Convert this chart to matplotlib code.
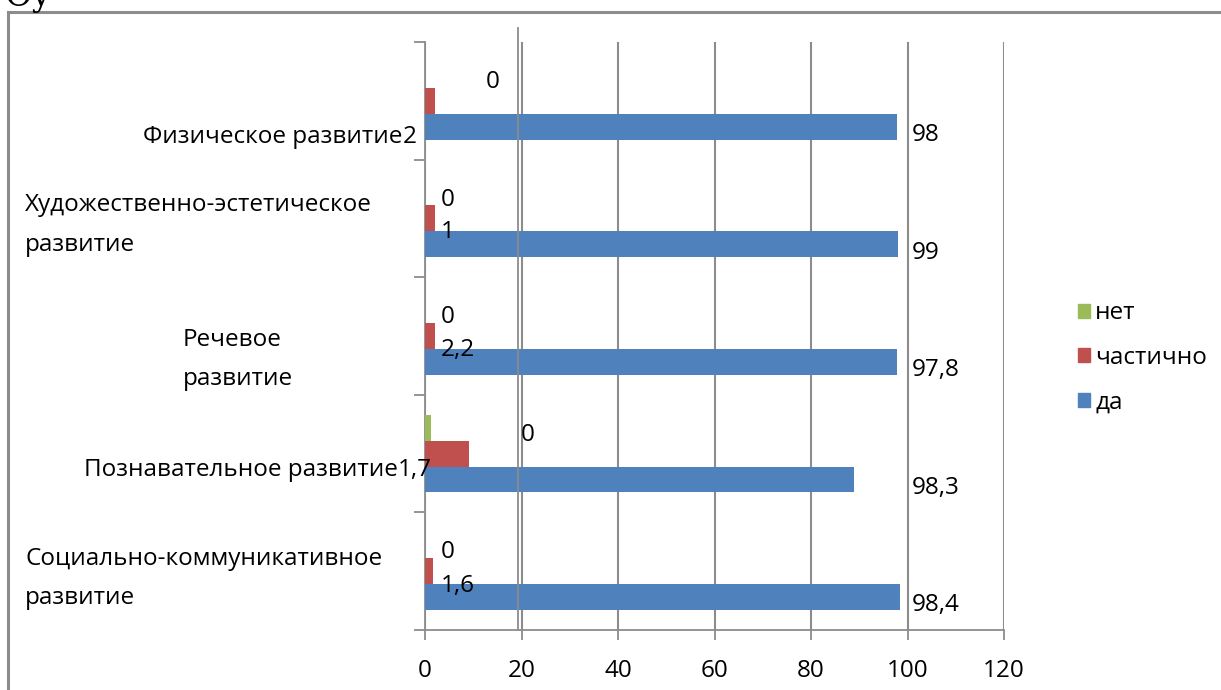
import numpy as np
import matplotlib
matplotlib.use("Agg")
import matplotlib.pyplot as plt
from matplotlib.lines import Line2D
from matplotlib.patches import Patch

# categories bottom -> top
categories = ["Социально-коммуникативное\nразвитие", "Познавательное развитие",
              "Речевое\nразвитие", "Художественно-эстетическое\nразвитие",
              "Физическое развитие"]
da = [98.4, 89.0, 97.8, 98.0, 97.8]
chastichno = [1.6, 9.1, 2.1, 2.1, 2.1]
net = [0.0, 1.2, 0.0, 0.0, 0.0]

# data labels as printed on the chart
da_labels = ["98,4", "98,3", "97,8", "99", "98"]
chast_labels = ["1,6", "1,7", "2,2", "1", "2"]
net_labels = ["0", "0", "0", "0", "0"]

BLUE = "#4F81BD"
RED = "#C0504D"
GREEN = "#9BBB59"
GRID = "#8C8C8C"
FONT = "Open Sans"
FS = 17.5

plt.rcParams['font.family'] = [FONT, 'DejaVu Sans']

fig = plt.figure(figsize=(12.21, 6.9), dpi=100)
W, H = 1221, 690
ax = fig.add_axes([425 / W, 1 - 630 / H, (1004 - 425) / W, (630 - 42) / H])

y = np.arange(len(categories))
bh = 0.22
ax.barh(y - bh, da, height=bh, color=BLUE, edgecolor="none", zorder=3)
ax.barh(y, chastichno, height=bh, color=RED, edgecolor="none", zorder=3)
ax.barh(y + bh, net, height=bh, color=GREEN, edgecolor="none", zorder=3)

ax.set_xlim(0, 120)
ax.set_ylim(-0.5, len(categories) - 0.5)
ax.set_xticks(np.arange(0, 121, 20))
ax.tick_params(axis="x", labelsize=FS, length=7, width=1.3, color=GRID, pad=14)
ax.set_yticks(np.arange(-0.5, len(categories), 1.0))
ax.set_yticklabels([])
ax.tick_params(axis="y", length=8, width=1.3, color=GRID)
ax.grid(axis="x", color=GRID, linewidth=1.5, zorder=0)
for s in ["top", "right"]:
    ax.spines[s].set_visible(False)
for s in ["left", "bottom"]:
    ax.spines[s].set_color(GRID)
    ax.spines[s].set_linewidth(1.3)

# category labels (placed as in the original)
label_pos = [(-82.9, -0.06, "left"), (-5.6, -0.14, "right"), (-50.2, -0.2, "left"),
             (-82.9, -0.055, "left"), (-4.6, -0.31, "right")]
for i, (cx, dy, ha) in enumerate(label_pos):
    ax.text(cx, y[i] + dy, categories[i], ha=ha, va="center", fontsize=FS,
            linespacing=1.85, clip_on=False)

# data labels
for i in range(len(categories)):
    ax.text(100.8, y[i] - 0.29, da_labels[i], ha="left", va="center", fontsize=FS, zorder=4)
chast_x = [3.3, -5.6, 3.3, 3.3, -4.6]
chast_dy = [-0.13, -0.14, -0.12, -0.115, -0.31]
for i in range(len(categories)):
    ax.text(chast_x[i], y[i] + chast_dy[i], chast_labels[i], ha="left", va="center",
            fontsize=FS, zorder=4, clip_on=False)
net_x = [4.6, 21.3, 4.6, 4.6, 14.1]
for i in range(len(categories)):
    ax.text(net_x[i], y[i] + 0.16, net_labels[i], ha="center", va="center",
            fontsize=FS, zorder=4)

# legend
handles = [Patch(color=GREEN), Patch(color=RED), Patch(color=BLUE)]
fig.legend(handles, ["нет", "частично", "да"], loc="center left",
           bbox_to_anchor=(1066 / W, 1 - 358 / H), frameon=False, fontsize=FS,
           handlelength=0.5, handleheight=0.5, handletextpad=0.2,
           labelspacing=0.85, borderpad=0)

# outer chart frame and stray line
fig.add_artist(Line2D([8 / W, 8 / W], [1 - 12 / H, 0], color="#8C8C8C", lw=2.2))
fig.add_artist(Line2D([8 / W, 1], [1 - 12 / H, 1 - 12 / H], color="#8C8C8C", lw=2.2))
fig.add_artist(Line2D([518 / W, 518 / W], [1 - 28 / H, 1 - 630 / H], color=GRID, lw=1.3))

# cut-off heading text above the frame
fig.text(4 / W, 1 - 6 / H, "Оу", family="DejaVu Serif", fontsize=24, va="baseline")

fig.savefig("out.png", dpi=100)
